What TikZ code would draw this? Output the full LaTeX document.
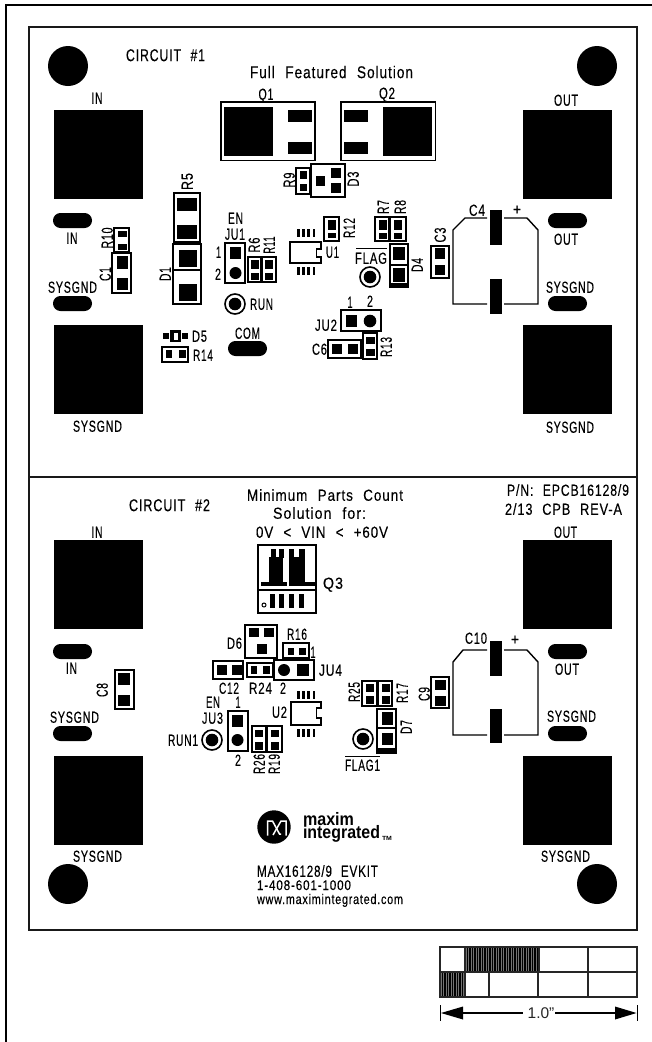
\documentclass[tikz,border=0pt]{standalone}
\usepackage{fontspec}
\setmainfont{Liberation Sans}
\newfontfamily\pf[LetterSpace=7,WordSpace=2.2,FakeBold=0.25]{Liberation Sans}
\newfontfamily\pfb[Scale=1,BoldFont=Liberation Sans Bold]{Liberation Sans}
\newcount\lc
% label: [rotation]{cx}{cy}{width}{text}
\newcommand\tlb[5][0]{\global\advance\lc by 1
  \node[lbl,rotate=#1] (t\the\lc) at (#2,#3) {\resizebox{#4pt}{\height}{#5}};}
\newcommand\tbig[4]{\global\advance\lc by 1
  \node[lbl,text height=12.2pt] (t\the\lc) at (#1,#2) {\fontsize{17}{17}\selectfont\resizebox{#3pt}{\height}{#4}};}
\newcommand\tsm[4]{\global\advance\lc by 1
  \node[lbl,text height=10pt] (t\the\lc) at (#1,#2) {\fontsize{14}{14}\selectfont\resizebox{#3pt}{\height}{#4}};}
\newcommand\bxx[4]{\draw[boxl] (#1,#2) rectangle (#3,#4);}
\newcommand\pdd[4]{\fill (#1,#2) rectangle (#3,#4);}
\newcommand\ovl[2]{\fill[rounded corners=7.4pt] (#1,#2) rectangle ++(39,15);}
\newcommand\vvia[3]{\draw[line width=1.6pt] (#1,#2) circle (#3); \fill (#1,#2) circle (6.3);}
\newcommand\pinz[2]{\foreach \i in {0,1,2,3}{\fill ({#1+\i*5.2},#2) rectangle ++(2.8,8.5);}}
\tikzset{
  lbl/.style={inner sep=0pt,outer sep=0pt,text height=11.5pt,text depth=0pt,font=\fontsize{16}{16}\selectfont\pf,text=black},
  boxl/.style={draw=black,line width=1.6pt},
  frame/.style={draw=black!90,line width=2pt},
  scl/.style={draw=black!85,line width=1.2pt},
}
\begin{document}
\begin{tikzpicture}[x=1pt,y=-1pt]
\useasboundingbox (0,0) rectangle (652,1042);
\fill[white] (0,0) rectangle (652,1042);
% page frame
\draw[line width=1.5pt] (6,1042) -- (6,5) -- (652,5);
% board
\draw[frame] (29,27) rectangle (637,930);
\draw[frame] (29,477) -- (637,477);
% mounting holes
\foreach \x/\y in {68/66,597/66,68/884,597/884}{\fill (\x,\y) circle (20);}
% big pads
\foreach \x/\y in {54/110,523/110,54/325,523/325,54/540,523/540,54/756,523/756}{\fill (\x,\y) rectangle ++(89,89);}
% ovals
\ovl{53}{213}\ovl{53}{296}\ovl{228}{341}\ovl{548}{213}\ovl{548}{296}
\ovl{53}{644}\ovl{53}{726}\ovl{548}{644}\ovl{548}{726}
% Q1 Q2
\bxx{221}{102}{315}{160.5}\pdd{224}{107}{273}{156}\pdd{288}{110}{312}{122}\pdd{288}{142}{312}{154}
\bxx{341}{102}{435.5}{160.5}\pdd{383}{107}{432}{156}\pdd{344}{110}{368}{122}\pdd{344}{142}{368}{154}
% D3 R9
\bxx{311}{164}{345}{197}\pdd{316}{176}{325}{186}\pdd{331}{168}{341}{178}\pdd{331}{183}{341}{193}
\bxx{296}{168}{310}{194}\pdd{300}{171}{307}{179}\pdd{300}{184}{307}{191}
% R5 D1
\bxx{174}{193}{200}{242}\pdd{177}{198}{197}{211}\pdd{177}{225}{197}{239}
\bxx{173}{244}{201}{304}\draw[boxl] (173,270) -- (201,270);\pdd{179}{250}{197}{267}\pdd{179}{284}{197}{301}
% JU1 R6 R11
\bxx{225}{243}{245}{283}\pdd{230}{247}{241}{259}\fill (235.5,273) circle (6);
\bxx{248}{257}{261}{282}\pdd{251}{260}{259}{269}\pdd{251}{273}{259}{280}
\bxx{262}{257}{276}{282}\pdd{265}{260}{273}{269}\pdd{265}{273}{273}{280}
% RUN
\vvia{235}{304}{10}
% U1
\draw[boxl] (290,242) -- (321,242) -- (321,249) -- (316.5,249) -- (316.5,257) -- (321,257) -- (321,263) -- (290,263) -- cycle;
\pinz{297}{228.5}\pinz{297}{266.5}
% R12 R7 R8
\bxx{324}{217}{339}{241}\pdd{328}{220}{336}{230}\pdd{328}{233}{336}{238}
\bxx{375}{217}{389}{241}\pdd{379}{220}{387}{230}\pdd{379}{233}{387}{239}
\bxx{390}{217}{406}{241}\pdd{394}{220}{402}{230}\pdd{394}{233}{402}{239}
% D4
\bxx{390}{244}{408}{287}\draw[boxl] (390,265) -- (408,265);\pdd{393}{247}{405}{260}\pdd{393}{268}{405}{282}\pdd{390}{283}{408}{288}
% FLAG
\draw[line width=.9pt] (356,248) -- (387,248);
\vvia{370}{277}{10}
% JU2 C6 R13
\bxx{341}{310}{381}{331}\pdd{346}{315}{357}{327}\fill (370,321) circle (6.3);
\bxx{328}{340}{361}{358}\pdd{332}{344}{342}{354}\pdd{348}{344}{358}{354}
\bxx{363}{333}{377}{359}\pdd{366}{337}{375}{344}\pdd{366}{349}{375}{356}
% C3
\bxx{431}{246}{449}{278}\pdd{435}{248}{445}{259}\pdd{435}{265}{445}{275}
% C4
\draw[line width=1.4pt] (487,218) -- (465,218) -- (453,230) -- (453,304) -- (487,304) (504,304) -- (538,304) -- (538,230) -- (527,218) -- (504,218);
\pdd{490}{210}{502}{245}\pdd{490}{279}{502}{313.5}
% C1 R10
\bxx{112}{253}{131}{293}\pdd{117}{256}{128}{269}\pdd{117}{278}{128}{290}
\bxx{114}{228}{129}{252}\pdd{118}{231}{127}{237}\pdd{118}{244}{127}{250}
% D5 R14
\pdd{163}{333}{169}{339}\pdd{170}{330}{181}{342}\fill[white] (174,332.5) rectangle (178,339.5);\pdd{182}{333}{188}{339}
\bxx{162}{347}{188}{362}\pdd{166}{350}{172}{358}\pdd{179}{350}{186}{358}
% --- circuit 2 ---
% Q3
\bxx{258}{545}{316}{613}\draw[boxl] (258,590) -- (316,590);
\pdd{261}{582}{287}{586}\pdd{289}{582}{315}{586}
\pdd{269}{557}{283}{586}\pdd{289}{557}{305}{586}
\pdd{271}{549}{276}{558}\pdd{279}{549}{284}{558}\pdd{289}{549}{294}{558}\pdd{299}{549}{305}{558}
\pdd{270}{594}{275}{608}\pdd{279}{594}{284}{608}\pdd{289}{594}{294}{608}\pdd{299}{594}{304}{608}
\draw[line width=1pt] (264,605) circle (2);
% D6 R16
\bxx{245}{625}{277}{658}\pdd{249}{628}{259}{637}\pdd{264}{628}{274}{637}\pdd{257}{644}{267}{654}
\bxx{283}{643}{309}{658}\pdd{288}{648}{294}{655}\pdd{299}{648}{306}{655}
% C12 R24 JU4
\bxx{213}{661}{243}{679}\pdd{217}{665}{227}{675}\pdd{232}{665}{242}{675}
\bxx{247}{663}{273}{677}\pdd{251}{666}{257}{674}\pdd{263}{666}{270}{674}
\bxx{274}{660}{314}{680}\fill (284,670) circle (6);\pdd{297}{664}{309}{676}
% U2
\draw[boxl] (291,702) -- (321,702) -- (321,708) -- (316.5,708) -- (316.5,718) -- (321,718) -- (321,725) -- (291,725) -- cycle;
\pinz{297}{690.5}\pinz{297}{728.5}
% JU3 R26 R19 RUN1
\bxx{228}{711}{248}{751}\pdd{232}{715}{243}{727}\fill (237.5,740) circle (6);
\bxx{252}{726}{266}{752}\pdd{255}{730}{263}{737}\pdd{255}{742}{263}{750}
\bxx{267}{726}{282}{752}\pdd{271}{730}{279}{737}\pdd{271}{742}{279}{750}
\vvia{212}{740}{10}
% R25 R17 D7 FLAG1
\bxx{362}{681}{377}{706}\pdd{366}{684}{374}{692}\pdd{366}{696}{374}{704}
\bxx{378}{681}{392}{706}\pdd{382}{684}{390}{692}\pdd{382}{696}{390}{704}
\bxx{377}{709}{396}{753}\draw[boxl] (377,728) -- (396,728);\pdd{382}{712}{393}{725}\pdd{382}{733}{393}{745}\pdd{377}{748}{396}{753.5}
\vvia{363}{739}{10}
\draw[line width=.9pt] (345,756) -- (380,756);
% C8 C9 C10
\bxx{115}{670}{134}{709}\pdd{118}{673}{130}{685}\pdd{118}{695}{130}{706}
\bxx{431}{677}{449}{708}\pdd{435}{680}{446}{690}\pdd{435}{696}{446}{706}
\draw[line width=1.4pt] (487,650) -- (463,650) -- (453,662) -- (453,735) -- (487,735) (504,735) -- (538,735) -- (538,662) -- (527,650) -- (504,650);
\pdd{490}{641}{502}{676}\pdd{490}{709}{502}{743}
% logo
\fill (274,827) circle (16.7);
\draw[white,line width=1.5pt] (267.5,835.5) -- (267.5,821) -- (272.5,821) -- (279.5,834) -- (281,834);
\draw[white,line width=1.5pt] (273,835) -- (281,821) -- (286,821) -- (286,835.5);
\global\advance\lc by 1
\node[lbl,text height=12pt] (t\the\lc) at (328.5,819) {\fontsize{18}{18}\selectfont\pfb\bfseries\resizebox{51pt}{\height}{maxim}};
\global\advance\lc by 1
\node[lbl,text height=12pt] (t\the\lc) at (341.5,832.5) {\fontsize{18}{18}\selectfont\pfb\bfseries\resizebox{77pt}{\height}{integrated}};
\global\advance\lc by 1
\node[lbl,text height=4pt] (t\the\lc) at (387,838) {\fontsize{6}{6}\selectfont\pfb\bfseries\resizebox{10pt}{\height}{TM}};
% scale bar
\fill (465,947) rectangle (539,972);
\fill (440,972) rectangle (465,997);
\foreach \x in {466,468.5,...,538}{\draw[black!55,line width=.4pt] (\x,948) -- (\x,971);}
\foreach \x in {441,443.5,...,464}{\draw[black!55,line width=.4pt] (\x,973) -- (\x,996);}
\draw[scl] (440,947) rectangle (637,997);
\draw[scl] (440,972) -- (637,972);
\draw[scl] (465,947) -- (465,997);
\draw[scl] (539,947) -- (539,972) (489,972) -- (489,997) (538,972) -- (538,997);
\draw[scl] (588,947) -- (588,997);
\draw[line width=.9pt] (440.5,1005) -- (440.5,1021);
\draw[line width=.9pt] (637,1005) -- (637,1021);
\fill (441,1013) -- (463,1006.5) -- (463,1019.5) -- cycle;
\fill (636.5,1013) -- (615,1006.5) -- (615,1019.5) -- cycle;
\draw[line width=1.1pt] (463,1013) -- (523,1013) (555,1013) -- (615,1013);
\global\advance\lc by 1
\node[inner sep=0pt,font=\fontsize{15.5}{15.5}\selectfont,text=black!85] (t\the\lc) at (541,1013) {1.0”};
% --- circuit 1 text ---
\tbig{165.5}{55}{79}{CIRCUIT \#1}
\tbig{331.5}{72}{163}{Full Featured Solution}
\tlb{266}{94}{15}{Q1}
\tlb{387}{93}{16}{Q2}
\tlb{97}{98}{11}{IN}
\tlb{566}{100}{24}{OUT}
\tlb{72}{238}{11}{IN}
\tlb{566}{239}{24}{OUT}
\tlb{72.5}{287}{49}{SYSGND}
\tlb{570}{287}{48}{SYSGND}
\tlb{97.5}{426}{49}{SYSGND}
\tlb{570}{427}{48}{SYSGND}
\tlb{247.5}{333}{25}{COM}
\tlb[90]{187}{181.5}{17}{R5}
\tlb[90]{289}{180}{15}{R9}
\tlb[90]{353}{179}{15}{D3}
\tlb[90]{107}{238}{21}{R10}
\tlb[90]{105}{274}{14}{C1}
\tlb[90]{165}{274}{14}{D1}
\tlb{235.5}{218}{15}{EN}
\tlb{235}{234}{20}{JU1}
\tlb{218.5}{252}{5}{1}
\tlb{218}{274}{6}{2}
\tlb[90]{254}{245}{15}{R6}
\tlb[90]{269}{245}{17}{R11}
\tlb{261.5}{304}{23}{RUN}
\tlb{332.5}{252}{13}{U1}
\tlb[90]{349}{228}{20}{R12}
\tlb[90]{383}{207}{14}{R7}
\tlb[90]{400}{207}{14}{R8}
\tlb{371}{258}{32}{FLAG}
\tlb[90]{417}{265}{14}{D4}
\tlb[90]{440}{235}{15}{C3}
\tlb{477}{210}{16}{C4}
\tlb{517}{209}{8}{+}
\tlb{350}{302}{5}{1}
\tlb{370}{301}{6}{2}
\tlb{326}{325}{22}{JU2}
\tlb{319.5}{349}{15}{C6}
\tlb[90]{386}{347}{20}{R13}
\tlb{199.5}{336}{15}{D5}
\tlb{203}{355}{20}{R14}
% --- circuit 2 text ---
\tbig{169.5}{505}{81}{CIRCUIT \#2}
\tlb{325}{495}{156}{Minimum Parts Count}
\tlb{319.5}{513}{93}{Solution for:}
\tlb{322}{532}{132}{0V < VIN < +60V}
\tlb{568}{490}{122}{P/N: EPCB16128/9}
\tlb{563.5}{509}{117}{2/13 CPB REV-A}
\tlb{97}{532}{11}{IN}
\tlb{565.5}{532}{23}{OUT}
\tlb{71.5}{668}{11}{IN}
\tlb{567}{669}{24}{OUT}
\tlb{74.5}{717}{49}{SYSGND}
\tlb{571.5}{716}{49}{SYSGND}
\tlb{97.5}{856}{49}{SYSGND}
\tlb{565.5}{856}{49}{SYSGND}
\tlb{333}{583}{20}{Q3}
\tlb{234.5}{643}{15}{D6}
\tlb{297}{634}{20}{R16}
\tlb{313}{652}{5}{1}
\tlb{229}{688}{20}{C12}
\tlb{260.5}{688}{23}{R24}
\tlb{283}{688}{6}{2}
\tlb{330.5}{670}{23}{JU4}
\tlb{279.5}{712}{15}{U2}
\tlb{213}{702}{14}{EN}
\tlb{238}{702}{5}{1}
\tlb{212.5}{718}{21}{JU3}
\tlb{238}{760}{6}{2}
\tlb{183}{740}{30}{RUN1}
\tlb[90]{259}{764}{20}{R26}
\tlb[90]{274}{764}{20}{R19}
\tlb[90]{354}{692}{20}{R25}
\tlb[90]{402}{693}{20}{R17}
\tlb[90]{406}{727}{14}{D7}
\tlb{362.5}{765}{35}{FLAG1}
\tlb[90]{102}{690}{14}{C8}
\tlb[90]{424}{694}{14}{C9}
\tlb{476}{638}{22}{C10}
\tlb{515}{639}{8}{+}
% bottom text
\tlb{317.5}{871}{121}{MAX16128/9 EVKIT}
\tsm{304}{885}{94}{1-408-601-1000}
\tsm{330}{899}{146}{www.maximintegrated.com}
\end{tikzpicture}
\end{document}
